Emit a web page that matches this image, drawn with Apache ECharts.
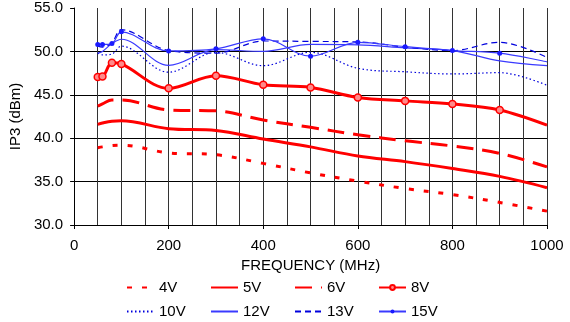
<!DOCTYPE html>
<html>
<head>
<meta charset="utf-8">
<script src="https://cdn.jsdelivr.net/npm/echarts@6/dist/echarts.min.js"></script>
<style>
  html, body { margin: 0; padding: 0; background: #fff; }
  #chart { width: 570px; height: 322px; }
</style>
</head>
<body>
<div id="chart"></div>
<script>
// IP3 versus frequency for several supply voltages
const freqMHz = [50, 60, 80, 100, 200, 300, 400, 500, 600, 700, 800, 900, 1000];
const ip3_4V  = [38.9, 39.0, 39.15, 39.2, 38.3, 38.1, 37.1, 36.0, 35.05, 34.2, 33.5, 32.6, 31.6];
const ip3_5V  = [41.6, 41.75, 41.95, 42.0, 41.1, 40.9, 39.9, 39.0, 37.95, 37.3, 36.5, 35.6, 34.3];
const ip3_6V  = [43.7, 43.95, 44.4, 44.4, 43.25, 43.15, 42.1, 41.25, 40.4, 39.7, 39.1, 38.25, 36.7];
const ip3_8V  = [47.05, 47.1, 48.7, 48.55, 45.75, 47.2, 46.15, 45.85, 44.7, 44.3, 43.95, 43.25, 41.5];
const ip3_10V = [49.8, 49.6, 49.7, 50.6, 47.6, 49.9, 48.35, 49.9, 48.05, 47.65, 47.4, 47.55, 46.1];
const ip3_12V = [49.8, 50.0, 50.9, 51.4, 48.4, 50.2, 50.0, 50.8, 50.75, 50.4, 50.1, 48.9, 48.35];
const ip3_13V = [50.6, 50.5, 51.0, 52.5, 50.1, 49.8, 51.2, 51.15, 51.1, 50.5, 50.1, 51.05, 49.3];
const ip3_15V = [50.8, 50.8, 50.9, 52.25, 50.05, 50.3, 51.45, 49.45, 51.05, 50.55, 50.1, 49.8, 48.8];

const xTicks = [0, 200, 400, 600, 800, 1000];
const yTicks = [30, 35, 40, 45, 50, 55];

// legend grid: two rows, four columns
const legendRows = [['4V', '5V', '6V', '8V'], ['10V', '12V', '13V', '15V']];
const legendLeft = [126, 210, 294, 378];
const legendTop = [280, 304];
const withMarker = { '8V': 6, '15V': 5 };

const FONT = 'Liberation Sans, Arial, sans-serif';
const RED = '#ff0000';
const BLUE = '#0000dd';
const BLUE_LIGHT = '#3a3aff';

// pair each value with its frequency; optionally hide the marker on the last point
function pts(vals, hideLast) {
  return freqMHz.map((f, i) => {
    if (hideLast && i === freqMHz.length - 1) return { value: [f, vals[i]], symbol: 'none' };
    return [f, vals[i]];
  });
}

function lineSeries(name, vals, color, width, type, extra) {
  return Object.assign({
    name: name,
    type: 'line',
    data: pts(vals, extra && extra.symbol && extra.symbol !== 'none'),
    smooth: 0.35,
    symbol: 'none',
    lineStyle: { color: color, width: width, type: type, cap: 'butt' },
    itemStyle: { color: color },
    emphasis: { disabled: true },
    z: 3
  }, extra || {});
}

const series = [
  lineSeries('4V', ip3_4V, RED, 3, [5, 10]),
  lineSeries('5V', ip3_5V, RED, 3, 'solid'),
  lineSeries('6V', ip3_6V, RED, 3, [17, 9]),
  lineSeries('8V', ip3_8V, RED, 3, 'solid', {
    symbol: 'circle', symbolSize: 7,
    itemStyle: { color: '#ff8a8a', borderColor: RED, borderWidth: 1.5 }
  }),
  lineSeries('10V', ip3_10V, BLUE, 1.2, [1.5, 2.5], { z: 4 }),
  lineSeries('12V', ip3_12V, BLUE_LIGHT, 1.2, 'solid', { z: 4 }),
  lineSeries('13V', ip3_13V, BLUE, 1.2, [6, 4], { z: 4 }),
  lineSeries('15V', ip3_15V, BLUE_LIGHT, 1.2, 'solid', {
    z: 5, symbol: 'circle', symbolSize: 5,
    itemStyle: { color: '#1a1aff' }
  })
];

const legends = [];
legendRows.forEach((row, r) => {
  row.forEach((name, c) => {
    const marker = withMarker[name];
    legends.push({
      left: legendLeft[c],
      top: legendTop[r],
      padding: 0,
      itemWidth: 27,
      itemHeight: marker || 6,
      selectedMode: false,
      data: [name],
      itemStyle: marker ? {} : { opacity: 0 },
      textStyle: { fontFamily: FONT, fontSize: 15, color: '#000', lineHeight: 15 }
    });
  });
});

const chart = echarts.init(document.getElementById('chart'), null, { renderer: 'canvas' });
chart.setOption({
  animation: false,
  backgroundColor: '#fff',
  grid: { left: 74, right: 23, top: 8, bottom: 97 },
  legend: legends,
  xAxis: {
    type: 'value',
    min: xTicks[0],
    max: xTicks[xTicks.length - 1],
    interval: xTicks[1] - xTicks[0],
    name: 'FREQUENCY (MHz)',
    nameLocation: 'middle',
    nameGap: 29,
    nameTextStyle: { fontFamily: FONT, fontSize: 15, color: '#000' },
    axisLine: { onZero: false, lineStyle: { color: '#000', width: 1 } },
    axisTick: { show: true, length: 4, lineStyle: { color: '#000' } },
    axisLabel: {
      fontFamily: FONT, fontSize: 15, color: '#000', margin: 13,
      formatter: v => String(v)
    },
    splitLine: { show: true, lineStyle: { color: '#333', width: 1 } },
    minorTick: { show: false, splitNumber: 4 },
    minorSplitLine: { show: true, lineStyle: { color: '#333', width: 1 } }
  },
  yAxis: {
    type: 'value',
    min: yTicks[0],
    max: yTicks[yTicks.length - 1],
    interval: yTicks[1] - yTicks[0],
    name: 'IP3 (dBm)',
    nameLocation: 'middle',
    nameGap: 46,
    nameTextStyle: { fontFamily: FONT, fontSize: 15, color: '#000' },
    axisLine: { show: true, lineStyle: { color: '#000', width: 1 } },
    axisTick: { show: true, length: 4, lineStyle: { color: '#000' } },
    axisLabel: {
      fontFamily: FONT, fontSize: 15, color: '#000', margin: 11,
      formatter: v => v.toFixed(1)
    },
    splitLine: { show: true, showMaxLine: false, lineStyle: { color: '#000', width: 1 } }
  },
  series: series
});
</script>
</body>
</html>
